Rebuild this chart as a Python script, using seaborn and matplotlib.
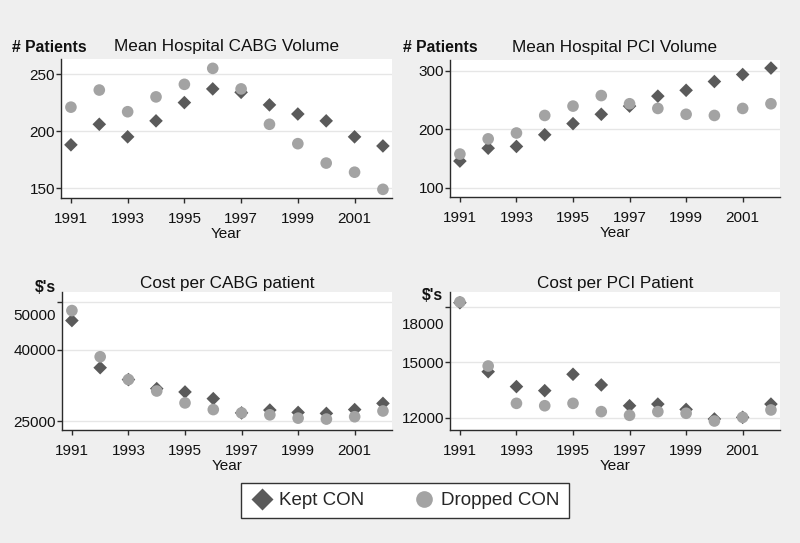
import matplotlib
matplotlib.use("Agg")
import matplotlib.pyplot as plt
import matplotlib.transforms as mtransforms
from matplotlib.lines import Line2D
import seaborn as sns

years = list(range(1991, 2003))

cabg_vol_kept = [188, 206, 195, 209, 225, 237, 234, 223, 215, 209, 195, 187]
cabg_vol_dropped = [221, 236, 217, 230, 241, 255, 237, 206, 189, 172, 164, 149]

pci_vol_kept = [146, 168, 171, 191, 210, 226, 240, 257, 267, 282, 294, 305]
pci_vol_dropped = [158, 184, 194, 224, 240, 258, 244, 236, 226, 224, 236, 244]

cabg_cost_kept = [46100, 36200, 33700, 31800, 31100, 29700, 26700, 27300, 26800, 26600, 27400, 28700]
cabg_cost_dropped = [48200, 38500, 33700, 31300, 28800, 27400, 26700, 26300, 25600, 25400, 25900, 27100]

pci_cost_kept = [18250, 14500, 13690, 13470, 14360, 13780, 12650, 12740, 12450, 11930, 12020, 12740]
pci_cost_dropped = [18290, 14810, 12780, 12650, 12780, 12330, 12130, 12330, 12240, 11820, 12020, 12420]

year_ticks = [1991, 1993, 1995, 1997, 1999, 2001]

KEPT = "#5a5a5a"
DROPPED = "#a3a3a3"
BG = "#efefef"

sns.set_style("white")
plt.rcParams["font.family"] = ["Liberation Sans", "DejaVu Sans"]

W, H = 800, 543
fig = plt.figure(figsize=(8, 5.43), dpi=100, facecolor=BG)


def px_axes(left, top, right, bottom):
    return fig.add_axes([left / W, 1 - bottom / H, (right - left) / W, (bottom - top) / H])


def draw_panel(ax, kept, dropped, title, title_pad, ylim, yticks, ytick_labels, shift_top=0):
    ax.set_facecolor("white")
    ax.set_axisbelow(True)
    sns.scatterplot(x=years, y=kept, marker="D", s=48, color=KEPT, edgecolor="none", ax=ax, legend=False)
    sns.scatterplot(x=years, y=dropped, marker="o", s=70, color=DROPPED, edgecolor="none", ax=ax, legend=False)
    ax.set_xlim(1990.65, 2002.32)
    ax.set_ylim(*ylim)
    ax.set_xticks(year_ticks)
    ax.set_xticklabels([str(y) for y in year_ticks], fontsize=11)
    ax.set_yticks(yticks)
    ax.set_yticklabels(ytick_labels, fontsize=11)
    ax.yaxis.grid(True, color="#e6e6e6", linewidth=1.0)
    ax.xaxis.grid(False)
    for side in ["top", "right"]:
        ax.spines[side].set_visible(False)
    for side in ["left", "bottom"]:
        ax.spines[side].set_color("#2b2b2b")
        ax.spines[side].set_linewidth(1.0)
    ax.tick_params(axis="both", direction="out", length=3.8, width=1, color="#2b2b2b",
                   labelcolor="#111111", left=True, bottom=True)
    ax.tick_params(axis="y", pad=0.5)
    ax.tick_params(axis="x", pad=6.5)
    ax.set_xlabel("Year", fontsize=11, labelpad=0.5, color="#111111")
    ax.set_ylabel("")
    ax.set_title(title, fontsize=12.3, pad=title_pad, color="#111111")
    if shift_top:
        lab = ax.get_yticklabels()[-1]
        lab.set_transform(lab.get_transform() + mtransforms.ScaledTranslation(0, -shift_top / 100, fig.dpi_scale_trans))


ax1 = px_axes(61, 59, 392, 198)
draw_panel(ax1, cabg_vol_kept, cabg_vol_dropped, "Mean Hospital CABG Volume", 6,
           (141.4, 263.2), [150, 200, 250], ["150", "200", "250"])

ax2 = px_axes(450, 60, 780, 197)
draw_panel(ax2, pci_vol_kept, pci_vol_dropped, "Mean Hospital PCI Volume", 6,
           (84.6, 318.8), [100, 200, 300], ["100", "200", "300"])

ax3 = px_axes(62, 292, 392, 430)
draw_panel(ax3, cabg_cost_kept, cabg_cost_dropped, "Cost per CABG patient", 3,
           (23110, 52100), [25000, 40000, 50000], ["25000", "40000", "50000"], shift_top=13)

ax4 = px_axes(450, 292, 780, 430)
draw_panel(ax4, pci_cost_kept, pci_cost_dropped, "Cost per PCI Patient", 3,
           (11331, 18832), [12000, 15000, 18000], ["12000", "15000", "18000"], shift_top=16)

# unit labels above each y axis
for x, y, txt in [(12, 47, "# Patients"), (403, 47, "# Patients"), (35, 287, "$'s"), (422, 295, "$'s")]:
    fig.text(x / W, 1 - y / H, txt, fontsize=11.3, fontweight="bold", ha="left", va="center", color="#111111")

handles = [
    Line2D([], [], marker="D", linestyle="none", markersize=11, color=KEPT, markeredgecolor="none"),
    Line2D([], [], marker="o", linestyle="none", markersize=12, color=DROPPED, markeredgecolor="none"),
]
leg = fig.legend(handles, ["Kept CON", "Dropped CON"], loc="center", bbox_to_anchor=(405 / W, 1 - 500.5 / H),
                 ncol=2, frameon=True, fancybox=False, fontsize=13.5, handletextpad=0.3, columnspacing=2.6,
                 borderpad=0.5, handlelength=1.2)
leg.get_frame().set_edgecolor("#333333")
leg.get_frame().set_linewidth(1.0)
leg.get_frame().set_facecolor("white")
leg.get_frame().set_alpha(1)

fig.savefig("out.png", dpi=100, facecolor=BG)
